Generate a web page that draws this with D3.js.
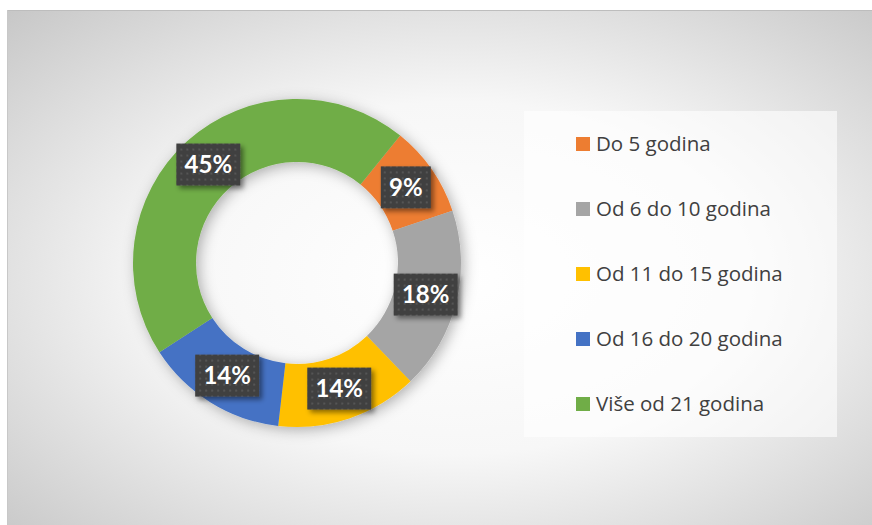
<!DOCTYPE html>
<html>
<head>
<meta charset="utf-8">
<script src="https://cdn.jsdelivr.net/npm/d3@7"></script>
<style>
  body { margin: 0; background: #fff; }
  svg { display: block; }
</style>
</head>
<body>
<div id="chart"></div>
<script>
// Data
const categories = ['Do 5 godina', 'Od 6 do 10 godina', 'Od 11 do 15 godina', 'Od 16 do 20 godina', 'Više od 21 godina'];
const values = [9, 18, 14, 14, 45];
const colors = ['#ed7d31', '#a5a5a5', '#ffc000', '#4472c4', '#70ad47'];

document.addEventListener('DOMContentLoaded', function() {
  const width = 872;
  const height = 525;

  const svg = d3.select('#chart').append('svg')
    .attr('width', width)
    .attr('height', height);

  const defs = svg.append('defs');

  // Background radial gradient
  const bg = defs.append('radialGradient')
    .attr('id', 'bg-grad')
    .attr('cx', 0.52).attr('cy', 0.52).attr('r', 0.76);
  bg.append('stop').attr('offset', '0%').attr('stop-color', '#ffffff');
  bg.append('stop').attr('offset', '45%').attr('stop-color', '#f7f7f7');
  bg.append('stop').attr('offset', '100%').attr('stop-color', '#c4c4c4');

  // Dotted pattern for the data labels
  const pat = defs.append('pattern')
    .attr('id', 'dots')
    .attr('patternUnits', 'userSpaceOnUse')
    .attr('width', 6).attr('height', 6);
  pat.append('rect').attr('width', 6).attr('height', 6).attr('fill', '#404040');
  pat.append('rect').attr('x', 2).attr('y', 2).attr('width', 2).attr('height', 2).attr('fill', '#555555');

  // Shadows
  const ringShadow = defs.append('filter').attr('id', 'ring-shadow')
    .attr('x', '-20%').attr('y', '-20%').attr('width', '140%').attr('height', '140%');
  ringShadow.append('feDropShadow')
    .attr('dx', 3).attr('dy', 3).attr('stdDeviation', 7)
    .attr('flood-color', '#000').attr('flood-opacity', 0.3);

  const boxShadow = defs.append('filter').attr('id', 'box-shadow')
    .attr('x', '-30%').attr('y', '-30%').attr('width', '160%').attr('height', '160%');
  boxShadow.append('feDropShadow')
    .attr('dx', 3).attr('dy', 3).attr('stdDeviation', 2.5)
    .attr('flood-color', '#000').attr('flood-opacity', 0.45);

  // Chart area
  svg.append('rect')
    .attr('x', 7).attr('y', 10)
    .attr('width', width - 7).attr('height', height - 10)
    .attr('fill', 'url(#bg-grad)');
  svg.append('line')
    .attr('x1', 7).attr('x2', width).attr('y1', 10.5).attr('y2', 10.5)
    .attr('stroke', '#bdbdbd').attr('stroke-width', 1);
  svg.append('line')
    .attr('x1', 7.5).attr('x2', 7.5).attr('y1', 10).attr('y2', height)
    .attr('stroke', '#c8c8c8').attr('stroke-width', 1);

  // Donut
  const cx = 297, cy = 263;
  const outerR = 164, innerR = 101;
  const start = 39 * Math.PI / 180;

  const pie = d3.pie()
    .sort(null)
    .startAngle(start)
    .endAngle(start + 2 * Math.PI);

  const arc = d3.arc()
    .innerRadius(innerR)
    .outerRadius(outerR);

  const colorScale = d3.scaleOrdinal()
    .domain(categories)
    .range(colors);

  const arcs = pie(values).map((d, i) => Object.assign(d, { cat: categories[i] }));

  const donut = svg.append('g')
    .attr('transform', `translate(${cx},${cy})`);

  donut.append('g')
    .attr('filter', 'url(#ring-shadow)')
    .selectAll('path')
    .data(arcs)
    .enter().append('path')
    .attr('d', arc)
    .attr('fill', d => colorScale(d.cat));

  // Data labels
  const label = donut.append('g')
    .selectAll('g')
    .data(arcs)
    .enter().append('g')
    .attr('transform', d => `translate(${arc.centroid(d)})`);

  label.append('rect')
    .attr('x', d => d.value < 10 ? -25 : -32)
    .attr('y', -21)
    .attr('width', d => d.value < 10 ? 50 : 64)
    .attr('height', 42)
    .attr('fill', 'url(#dots)')
    .attr('filter', 'url(#box-shadow)');

  label.append('text')
    .attr('text-anchor', 'middle')
    .attr('dy', '0.36em')
    .attr('fill', '#ffffff')
    .attr('font-family', 'Lato, "Open Sans", sans-serif')
    .attr('font-weight', 'bold')
    .attr('font-size', '24px')
    .text(d => d.value + '%');

  // Legend
  const legend = svg.append('g');
  legend.append('rect')
    .attr('x', 524).attr('y', 111)
    .attr('width', 313).attr('height', 326)
    .attr('fill', '#ffffff').attr('fill-opacity', 0.6);

  const legendY = d3.scalePoint()
    .domain(categories)
    .range([144, 404]);

  const item = legend.selectAll('g.item')
    .data(categories)
    .enter().append('g')
    .attr('class', 'item')
    .attr('transform', d => `translate(576,${legendY(d)})`);

  item.append('rect')
    .attr('x', 0).attr('y', -7)
    .attr('width', 14).attr('height', 14)
    .attr('fill', d => colorScale(d));

  item.append('text')
    .attr('x', 20)
    .attr('dy', '0.36em')
    .attr('fill', '#404040')
    .attr('font-family', '"Open Sans", sans-serif')
    .attr('font-size', '20.5px')
    .text(d => d);
});
</script>
</body>
</html>
